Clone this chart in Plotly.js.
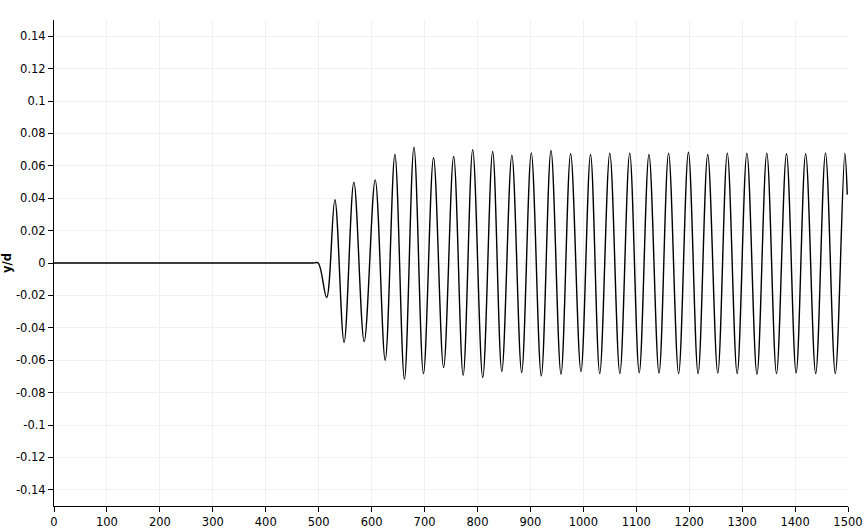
<!DOCTYPE html>
<html>
<head>
<meta charset="utf-8">
<script src="https://cdn.plot.ly/plotly-3.0.1.min.js"></script>
<style>
  html, body { margin: 0; padding: 0; background: #fff; }
  #chart_div { width: 868px; height: 532px; }
</style>
</head>
<body>
<div id="chart_div"></div>
<script>
// time steps of the flat part and of every peak / trough
var t_flat = [0, 250, 490, 499];
var y_flat = [0, 0, 0, 0];

var t_osc = [515, 530.6, 548, 566.5, 586, 606.8, 625.7, 644, 662, 680,
             698, 717, 736, 755, 773, 791, 810, 828.7, 846, 865,
             883.5, 901.7, 920.6, 938.9, 957.8, 976, 995.5, 1013.6, 1031, 1050,
             1069, 1087.6, 1105.6, 1124, 1143, 1161, 1180, 1198.5, 1216.8, 1235,
             1254, 1272, 1290.6, 1309, 1328, 1346.6, 1364.9, 1383.8, 1402, 1420,
             1439, 1457.5, 1476, 1494, 1498.6];
var y_osc = [-0.0213, 0.039, -0.049, 0.0499, -0.0485, 0.0513, -0.060, 0.067, -0.0717, 0.0715,
             -0.0683, 0.065, -0.0646, 0.0657, -0.0693, 0.070, -0.0707, 0.0688, -0.067, 0.0666,
             -0.0676, 0.068, -0.0697, 0.0694, -0.0687, 0.0674, -0.067, 0.067, -0.0683, 0.0678,
             -0.0683, 0.0678, -0.0678, 0.067, -0.068, 0.0678, -0.0683, 0.0684, -0.0683, 0.067,
             -0.068, 0.0678, -0.0683, 0.0678, -0.0687, 0.0678, -0.0683, 0.0674, -0.068, 0.0674,
             -0.0683, 0.0678, -0.0683, 0.0678, 0.0422];

// axis ticks
var x_ticks = [0, 100, 200, 300, 400, 500, 600, 700, 800, 900, 1000, 1100, 1200, 1300, 1400, 1500];
var y_ticks = [-0.14, -0.12, -0.1, -0.08, -0.06, -0.04, -0.02, 0, 0.02, 0.04, 0.06, 0.08, 0.1, 0.12, 0.14];
var y_labels = ['-0.14', '-0.12', '-0.1', '-0.08', '-0.06', '-0.04', '-0.02', '0',
                '0.02', '0.04', '0.06', '0.08', '0.1', '0.12', '0.14'];

var x = t_flat.concat(t_osc);
var y = y_flat.concat(y_osc);

var data = [{
  x: x,
  y: y,
  mode: 'lines',
  type: 'scatter',
  line: { color: '#000', width: 1.4, shape: 'spline', smoothing: 1 },
  hoverinfo: 'none'
}];

var axis_common = {
  showline: true,
  linecolor: '#000',
  linewidth: 1,
  ticks: 'outside',
  ticklen: 5,
  tickcolor: '#000',
  showgrid: true,
  gridcolor: '#f0f0f0',
  gridwidth: 1,
  zeroline: false,
  tickfont: { family: 'DejaVu Sans, sans-serif', size: 11.5, color: '#000' }
};

var layout = {
  width: 868,
  height: 532,
  margin: { l: 54, r: 20, t: 20, b: 26 },
  paper_bgcolor: '#fff',
  plot_bgcolor: '#fff',
  showlegend: false,
  xaxis: Object.assign({}, axis_common, {
    range: [0, 1500],
    tickvals: x_ticks,
    ticktext: x_ticks.map(String)
  }),
  yaxis: Object.assign({}, axis_common, {
    range: [-0.15, 0.15],
    tickvals: y_ticks,
    ticktext: y_labels,
    title: {
      text: '<b>y/d</b>',
      standoff: 8,
      font: { family: 'DejaVu Sans, sans-serif', size: 11.5, color: '#000' }
    }
  })
};

Plotly.newPlot('chart_div', data, layout, { staticPlot: true });
</script>
</body>
</html>
